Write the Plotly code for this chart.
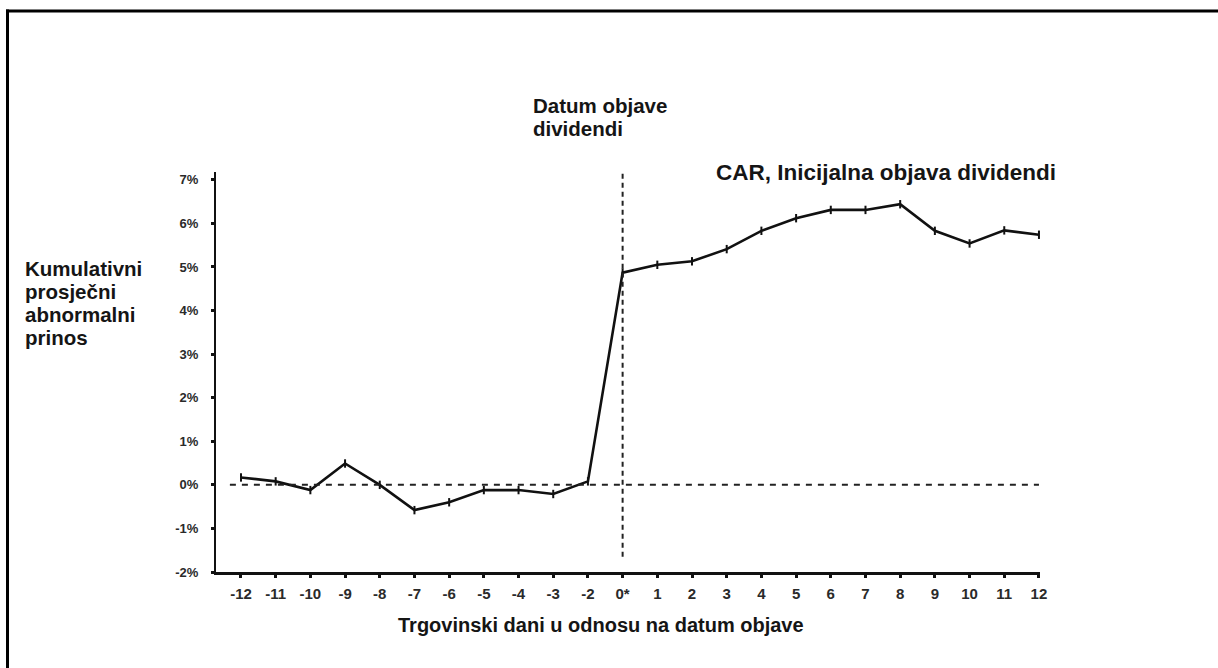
import plotly.graph_objects as go

# ---- data ----
day_labels = ["-12", "-11", "-10", "-9", "-8", "-7", "-6", "-5", "-4", "-3", "-2",
              "0*", "1", "2", "3", "4", "5", "6", "7", "8", "9", "10", "11", "12"]
car_values = [0.17, 0.08, -0.12, 0.49, 0.00, -0.58, -0.40, -0.12, -0.12, -0.21, 0.08,
              4.87, 5.05, 5.13, 5.41, 5.83, 6.12, 6.31, 6.31, 6.44, 5.83, 5.54, 5.84, 5.74]
y_tick_vals = [-2, -1, 0, 1, 2, 3, 4, 5, 6, 7]
y_tick_text = ["-2%", "-1%", "0%", "1%", "2%", "3%", "4%", "5%", "6%", "7%"]
event_label = "0*"

x_idx = list(range(len(day_labels)))
event_idx = day_labels.index(event_label)

# ---- layout geometry (pixels) ----
W, H = 1218, 668
PL, PR, PT, PB = 216, 1040, 171.5, 572.5


def px_x(p):
    return (p - PL) / (PR - PL)


def px_y(p):
    return (PB - p) / (PB - PT)


FONT = "Liberation Sans, Arial, sans-serif"
TXT = "#151515"

fig = go.Figure()

fig.add_trace(go.Scatter(
    x=x_idx, y=car_values, mode="lines+markers",
    line=dict(color="#111111", width=2.6),
    marker=dict(symbol="line-ns-open", size=6, line=dict(color="#111111", width=2)),
    cliponaxis=False, showlegend=False, hoverinfo="skip",
))

shapes = [
    # horizontal dashed zero line
    dict(type="line", xref="x", yref="y", x0=-0.32, x1=len(day_labels) - 1, y0=0, y1=0,
         line=dict(color="#222222", width=2, dash="6px,6px")),
    # vertical dashed event line
    dict(type="line", xref="x", yref="y", x0=event_idx, x1=event_idx, y0=-1.65, y1=7.18,
         line=dict(color="#222222", width=2, dash="5px,4px")),
    # outer frame: top and left edges (right/bottom fall outside the picture)
    dict(type="line", xref="paper", yref="paper",
         x0=px_x(6), x1=px_x(1230), y0=px_y(10), y1=px_y(10),
         line=dict(color="#000000", width=3)),
    dict(type="line", xref="paper", yref="paper",
         x0=px_x(7.5), x1=px_x(7.5), y0=px_y(8.5), y1=px_y(680),
         line=dict(color="#000000", width=3)),
]


def ann(text, x, y, size=20.5, xanchor="left"):
    return dict(text="<b>" + text + "</b>", xref="paper", yref="paper",
                x=px_x(x), y=px_y(y), xanchor=xanchor, yanchor="middle",
                showarrow=False, borderpad=0,
                font=dict(family=FONT, size=size, color=TXT))


annotations = [
    ann("Datum objave", 532, 104.5),
    ann("dividendi", 532, 127.5),
    ann("CAR, Inicijalna objava dividendi", 715, 172.5, size=22.5),
    ann("Kumulativni", 24, 268.5),
    ann("prosječni", 24, 291.5),
    ann("abnormalni", 24, 314.5),
    ann("prinos", 24, 337.5),
    ann("Trgovinski dani u odnosu na datum objave", 601, 625.5, size=20, xanchor="center"),
]

fig.update_layout(
    width=W, height=H,
    margin=dict(l=PL, r=W - PR, t=PT, b=H - PB, pad=0),
    paper_bgcolor="white", plot_bgcolor="white",
    shapes=shapes, annotations=annotations,
    xaxis=dict(
        range=[-0.72, len(day_labels) - 1 + 0.03],
        tickmode="array", tickvals=x_idx, ticktext=day_labels,
        showgrid=False, zeroline=False,
        showline=True, linecolor="#111111", linewidth=2.5,
        ticks="outside", ticklen=3, tickwidth=2.5, tickcolor="#111111",
        tickfont=dict(family=FONT, size=15, color="#2a2a2a", weight="bold"),
        ticklabelstandoff=3,
    ),
    yaxis=dict(
        range=[-2, 7.18],
        tickmode="array", tickvals=y_tick_vals, ticktext=y_tick_text,
        showgrid=False, zeroline=False,
        showline=True, linecolor="#111111", linewidth=2,
        ticks="outside", ticklen=3, tickwidth=2.5, tickcolor="#111111",
        tickfont=dict(family=FONT, size=13, color="#2a2a2a", weight="bold"),
        ticklabelstandoff=10,
    ),
)

fig.write_html(
    "out.html",
    config={"displayModeBar": False},
    post_script="document.body.style.margin='0';document.body.style.overflow='hidden';",
)
